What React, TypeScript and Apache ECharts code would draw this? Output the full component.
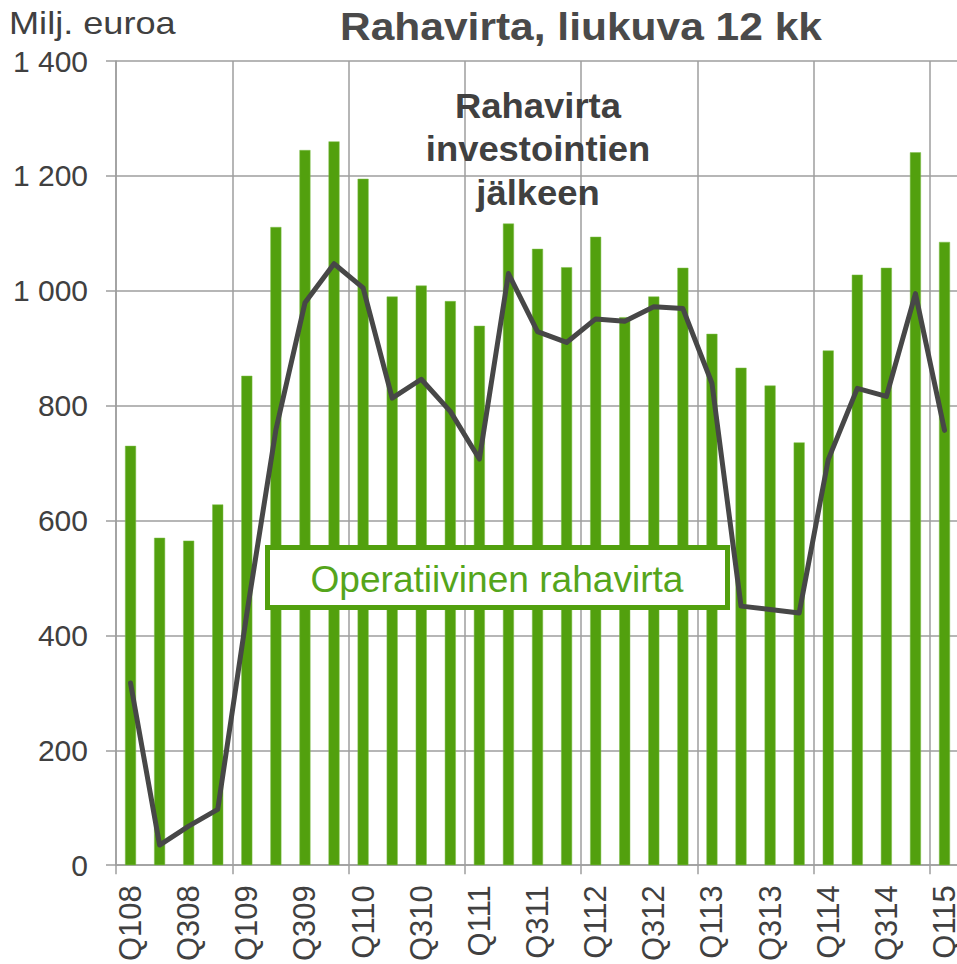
import React, { useEffect, useRef } from 'react';
import * as echarts from 'echarts';

const categories = [
  'Q108', 'Q208', 'Q308', 'Q408',
  'Q109', 'Q209', 'Q309', 'Q409',
  'Q110', 'Q210', 'Q310', 'Q410',
  'Q111', 'Q211', 'Q311', 'Q411',
  'Q112', 'Q212', 'Q312', 'Q412',
  'Q113', 'Q213', 'Q313', 'Q413',
  'Q114', 'Q214', 'Q314', 'Q414',
  'Q115',
];

// Operatiivinen rahavirta (bars), Milj. euroa
const operativeCashFlow = [
  730, 570, 565, 628,
  852, 1111, 1245, 1260,
  1195, 990, 1009, 982,
  939, 1117, 1073, 1041,
  1094, 954, 990, 1040,
  925, 866, 835, 736,
  896, 1028, 1040, 1241,
  1085,
];

// Rahavirta investointien jälkeen (line), Milj. euroa
const cashFlowAfterInvestments = [
  317, 35, 68, 97,
  438, 758, 979, 1047,
  1005, 813, 846, 790,
  707, 1030, 929, 910,
  951, 947, 972, 969,
  839, 451, 445, 439,
  706, 830, 816, 995,
  757,
];

const yMin = 0;
const yMax = 1400;
const yStep = 200;

const titleText = 'Rahavirta, liukuva 12 kk';
const unitText = 'Milj. euroa';
const lineLabelLines = ['Rahavirta', 'investointien', 'jälkeen'];
const barLabelText = 'Operatiivinen rahavirta';

const FONT = '"Liberation Sans", Arial, Helvetica, sans-serif';
const GREEN = '#52a00e';
const DARK = '#474747';
const TEXT = '#404040';
const GRID = '#9e9e9e';

export default function App() {
  const ref = useRef<HTMLDivElement>(null);

  useEffect(() => {
    if (!ref.current) return;
    const chart = echarts.init(ref.current, null, { renderer: 'svg' });

    const fmt = (v: number) => {
      const s = String(Math.round(v));
      return s.replace(/\B(?=(\d{3})+(?!\d))/g, ' ');
    };

    chart.setOption({
      animation: false,
      backgroundColor: '#ffffff',
      grid: { left: 116, right: 0, top: 61, bottom: 98, containLabel: false },
      xAxis: {
        type: 'category',
        data: categories,
        boundaryGap: true,
        axisLine: { show: true, lineStyle: { color: GRID, width: 1.5 } },
        axisTick: { show: true, interval: 3, length: 9, lineStyle: { color: GRID, width: 1.5 } },
        splitLine: { show: true, interval: 3, lineStyle: { color: GRID, width: 1.5 } },
        axisLabel: {
          interval: 1,
          rotate: 90,
          margin: 20,
          fontSize: 31,
          fontFamily: FONT,
          color: TEXT,
        },
      },
      yAxis: {
        type: 'value',
        min: yMin,
        max: yMax,
        interval: yStep,
        axisLine: { show: true, lineStyle: { color: GRID, width: 1.5 } },
        axisTick: { show: true, length: 10, lineStyle: { color: GRID, width: 1.5 } },
        splitLine: { show: true, lineStyle: { color: GRID, width: 1.5 } },
        axisLabel: {
          margin: 28,
          fontSize: 30,
          fontFamily: FONT,
          color: TEXT,
          formatter: (v: number) => fmt(v),
        },
      },
      series: [
        {
          name: barLabelText,
          type: 'bar',
          data: operativeCashFlow,
          barWidth: 11,
          itemStyle: { color: GREEN, borderColor: '#7fbf4a', borderWidth: 0.5 },
          z: 2,
        },
        {
          name: lineLabelLines.join(' '),
          type: 'line',
          data: cashFlowAfterInvestments,
          symbol: 'none',
          smooth: false,
          lineStyle: { color: DARK, width: 5, cap: 'round', join: 'round' },
          z: 3,
        },
      ],
      graphic: [
        {
          type: 'text',
          x: 581,
          y: 27,
          scaleX: 1.09,
          z: 100,
          style: {
            text: titleText,
            fill: '#4a4a4a',
            fontSize: 39,
            fontWeight: 'bold',
            fontFamily: FONT,
            textAlign: 'center',
            textVerticalAlign: 'middle',
          },
        },
        {
          type: 'text',
          x: 9,
          y: 23,
          scaleX: 1.13,
          z: 100,
          style: {
            text: unitText,
            fill: TEXT,
            fontSize: 32,
            fontFamily: FONT,
            textAlign: 'left',
            textVerticalAlign: 'middle',
          },
        },
        ...lineLabelLines.map((t, i) => ({
          type: 'text',
          x: 538,
          y: 106 + i * 43.5,
          scaleX: 1.04,
          z: 100,
          style: {
            text: t,
            fill: TEXT,
            fontSize: 35,
            fontWeight: 'bold',
            fontFamily: FONT,
            textAlign: 'center',
            textVerticalAlign: 'middle',
          },
        })),
        {
          type: 'rect',
          z: 100,
          shape: { x: 267.5, y: 547.5, width: 460, height: 60 },
          style: { fill: '#ffffff', stroke: GREEN, lineWidth: 5 },
        },
        {
          type: 'text',
          x: 497,
          y: 580,
          scaleX: 1.03,
          z: 101,
          style: {
            text: barLabelText,
            fill: '#55a51b',
            fontSize: 36,
            fontFamily: FONT,
            textAlign: 'center',
            textVerticalAlign: 'middle',
          },
        },
      ],
    });

    return () => chart.dispose();
  }, []);

  return (
    <div
      style={{
        position: 'fixed',
        left: 0,
        top: 0,
        width: 957,
        height: 964,
        overflow: 'hidden',
        background: '#ffffff',
      }}
    >
      <div ref={ref} style={{ width: 960, height: 964 }} />
    </div>
  );
}
